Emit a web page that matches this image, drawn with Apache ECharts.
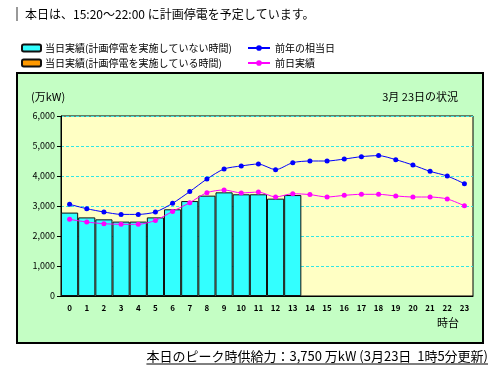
<!DOCTYPE html>
<html><head><meta charset="utf-8">
<script src="https://cdn.jsdelivr.net/npm/echarts@6/dist/echarts.min.js"></script>
<style>html,body{margin:0;padding:0;background:#fff;}#c{width:500px;height:372px;}</style>
</head><body><div id="c"></div>
<script>
const hours = ['0','1','2','3','4','5','6','7','8','9','10','11','12','13','14','15','16','17','18','19','20','21','22','23'];
const actualNoOutage = [2780,2620,2555,2480,2480,2620,2890,3165,3345,3455,3390,3390,3245,3365,null,null,null,null,null,null,null,null,null,null];
const actualOutage = [null,null,null,null,null,null,null,null,null,null,null,null,null,null,null,null,null,null,null,null,null,null,null,null];
const lastYear = [3055,2910,2800,2720,2720,2800,3090,3480,3900,4235,4335,4400,4210,4445,4500,4500,4565,4645,4680,4545,4365,4155,4000,3745];
const prevDay = [2555,2465,2410,2390,2390,2520,2820,3110,3445,3535,3435,3465,3300,3410,3380,3300,3355,3390,3390,3335,3300,3300,3235,3010];
const names = ['当日実績(計画停電を実施していない時間)','当日実績(計画停電を実施している時間)','前年の相当日','前日実績'];
const titleText = '本日は、15:20～22:00 に計画停電を予定しています。';
const footText = '本日のピーク時供給力：3,750 万kW (3月23日  1時5分更新)';
const FONT = '"Noto Sans CJK JP", sans-serif';

const mc = document.createElement('canvas').getContext('2d');
mc.font = '13px ' + FONT;
const footW = mc.measureText(footText).width;
const footRight = 488;

const chart = echarts.init(document.getElementById('c'), null, {renderer:'canvas'});
chart.setOption({
  animation:false,
  textStyle:{fontFamily:FONT},
  graphic:[
    {type:'rect', z:-10, shape:{x:17,y:73,width:466,height:270}, style:{fill:'#C4FEC4', stroke:'#000', lineWidth:2}},
    {type:'rect', shape:{x:16,y:7,width:2,height:14}, style:{fill:'#999'}},
    {type:'text', x:25, y:14, style:{text:titleText, font:'12px '+FONT, fill:'#000', verticalAlign:'middle'}},
    {type:'text', x:31, y:97, style:{text:'(万kW)', font:'11px '+FONT, fill:'#000', verticalAlign:'middle'}},
    {type:'text', x:458, y:97, style:{text:'3月 23日の状況', font:'11px '+FONT, fill:'#000', verticalAlign:'middle', align:'right'}},
    {type:'text', x:459, y:323, style:{text:'時台', font:'11px '+FONT, fill:'#000', verticalAlign:'middle', align:'right'}},
    {type:'text', x:footRight, y:356, style:{text:footText, font:'13px '+FONT, fill:'#000', verticalAlign:'middle', align:'right'}},
    {type:'line', shape:{x1:footRight-footW, y1:364, x2:footRight, y2:364}, style:{stroke:'#000', lineWidth:1}}
  ],
  legend:[
    {left:16, top:38, orient:'vertical', itemGap:5, itemWidth:19, itemHeight:7,
     textStyle:{fontSize:10, color:'#000', fontFamily:FONT, padding:[0,0,0,-1]}, data:[names[0],names[1]]},
    {left:242, top:38, orient:'vertical', itemGap:5, itemWidth:22, itemHeight:7,
     textStyle:{fontSize:10, color:'#000', fontFamily:FONT}, data:[names[2],names[3]]}
  ],
  grid:{left:61, top:116, width:412, height:180, show:true, backgroundColor:'#FFFFC4', borderColor:'#000', borderWidth:1},
  xAxis:{type:'category', data:hours, boundaryGap:true,
    axisLine:{lineStyle:{color:'#000'}},
    axisTick:{inside:true, length:3, lineStyle:{color:'#000'}},
    axisLabel:{interval:0, fontSize:8, color:'#000', margin:8, fontWeight:'bold'}},
  yAxis:{type:'value', min:0, max:6000, interval:1000,
    axisLine:{show:true, lineStyle:{color:'#000'}},
    axisTick:{show:true, length:4, lineStyle:{color:'#000'}},
    axisLabel:{fontSize:9, color:'#000', margin:6, formatter:v=>v.toLocaleString('en-US')},
    splitLine:{lineStyle:{color:'#33E6E6', type:[3,2], width:1}}},
  series:[
    {name:names[0], type:'bar', stack:'a', data:actualNoOutage, barCategoryGap:'0%',
     itemStyle:{color:'#33FFFF', borderColor:'#111', borderWidth:1}},
    {name:names[1], type:'bar', stack:'a', data:actualOutage, barCategoryGap:'0%',
     itemStyle:{color:'#FF9900', borderColor:'#111', borderWidth:1}},
    {name:names[2], type:'line', data:lastYear, smooth:0.25, symbol:'circle', symbolSize:5,
     lineStyle:{color:'#0000FF', width:1}, itemStyle:{color:'#0000FF'}},
    {name:names[3], type:'line', data:prevDay, smooth:0.25, symbol:'circle', symbolSize:5,
     lineStyle:{color:'#FF00FF', width:1}, itemStyle:{color:'#FF00FF'}}
  ]
});
</script></body></html>
